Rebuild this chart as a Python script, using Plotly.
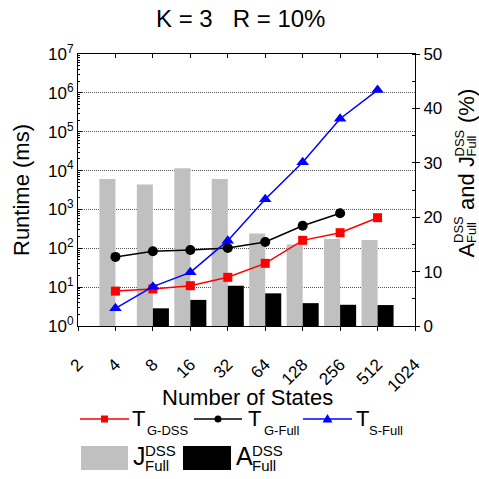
import numpy as np
import plotly.graph_objects as go

FONT = "Liberation Sans, Arial, sans-serif"

# ---- data -------------------------------------------------------------
states = [4, 8, 16, 32, 64, 128, 256, 512]
t_g_dss = [7.9, 9.0, 10.9, 17.9, 41, 160, 252, 612]            # ms
t_g_full_states = [4, 8, 16, 32, 64, 128, 256]
t_g_full = [60, 84, 90, 102, 145, 381, 795]                     # ms
t_s_full = [2.85, 10.3, 24, 157, 1820, 16300, 216000, 1180000]  # ms

j_full = [27.0, 26.0, 29.0, 27.0, 17.0, 15.0, 16.0, 15.8]        # %
a_full_states = [8, 16, 32, 64, 128, 256, 512]
a_full = [3.25, 4.8, 7.4, 6.0, 4.2, 3.9, 3.85]                  # %

x_tick_states = [2, 4, 8, 16, 32, 64, 128, 256, 512, 1024]
x_tick_labels = [str(s) for s in x_tick_states]
runtime_exponents = [0, 1, 2, 3, 4, 5, 6, 7]
runtime_tick_labels = [f"10<sup>{e}</sup>" for e in runtime_exponents]
pct_ticks = [0, 10, 20, 30, 40, 50]

# ---- geometry ---------------------------------------------------------
W = H = 479
ML, MR, MT, MB = 78, 64, 54, 153
PW, PH = W - ML - MR, H - MT - MB


def px_x(px):
    return (px - ML) / PW


def px_y(py):
    return (MT + PH - py) / PH


lg = np.log2
bar_w = 0.428

fig = go.Figure()

# bars on the primary (right, linear %) axis
fig.add_trace(go.Bar(
    x=lg(states), y=j_full, width=bar_w, offset=-bar_w,
    marker=dict(color="#c0c0c0", line=dict(width=0)),
    xaxis="x", yaxis="y", showlegend=False,
))
fig.add_trace(go.Bar(
    x=lg(a_full_states), y=a_full, width=bar_w, offset=0,
    marker=dict(color="#000000", line=dict(width=0)),
    xaxis="x", yaxis="y", showlegend=False,
))

# runtime lines on the overlaid log axis
fig.add_trace(go.Scatter(
    x=lg(states), y=t_g_dss, mode="lines+markers",
    line=dict(color="#ff0000", width=1.5),
    marker=dict(symbol="square", size=9, color="#ff0000"),
    xaxis="x2", yaxis="y2", showlegend=False,
))
fig.add_trace(go.Scatter(
    x=lg(t_g_full_states), y=t_g_full, mode="lines+markers",
    line=dict(color="#000000", width=1.5),
    marker=dict(symbol="circle", size=10, color="#000000"),
    xaxis="x2", yaxis="y2", showlegend=False,
))
fig.add_trace(go.Scatter(
    x=lg(states), y=t_s_full, mode="lines+markers",
    line=dict(color="#0000ff", width=1.5),
    marker=dict(symbol="triangle-up", size=11, color="#0000ff"),
    xaxis="x2", yaxis="y2", showlegend=False,
))

axis_font = dict(family=FONT, size=17, color="black")
xr = [1, 10]

fig.update_layout(
    width=W, height=H,
    margin=dict(l=ML, r=MR, t=MT, b=MB, pad=0),
    paper_bgcolor="white", plot_bgcolor="white",
    barmode="overlay",
    font=dict(family=FONT, color="black"),
    xaxis=dict(
        range=xr, tickmode="array", tickvals=lg(x_tick_states),
        ticktext=x_tick_labels, tickangle=-45,
        tickfont=dict(family=FONT, size=17, color="black"),
        ticks="outside", ticklen=4, tickcolor="black",
        ticklabelstandoff=17,
        showline=True, linecolor="black", linewidth=1,
        showgrid=False, zeroline=False,
    ),
    xaxis2=dict(
        range=xr, overlaying="x", side="top", anchor="y2",
        tickmode="array", tickvals=lg(x_tick_states),
        showticklabels=False, ticks="inside", ticklen=4, tickcolor="black",
        showline=True, linecolor="black", linewidth=1,
        showgrid=False, zeroline=False,
    ),
    yaxis=dict(
        range=[0, 50], side="right", tickmode="array", tickvals=pct_ticks,
        tickfont=axis_font, ticks="outside", ticklen=4, tickcolor="black",
        minor=dict(ticks="inside", ticklen=3, dtick=5, tickcolor="black",
                   showgrid=False),
        showline=True, linecolor="black", linewidth=1,
        showgrid=False, zeroline=False,
    ),
    yaxis2=dict(
        type="log", range=[0, 7], side="left", overlaying="y", anchor="x2",
        tickmode="array", tickvals=[10 ** e for e in runtime_exponents],
        ticktext=runtime_tick_labels, tickfont=axis_font,
        ticks="inside", ticklen=4, tickcolor="black",
        minor=dict(ticks="inside", ticklen=2, tickmode="linear", dtick="D1",
                   tickcolor="black", showgrid=False),
        showline=True, linecolor="black", linewidth=1,
        showgrid=True, gridcolor="#555555", griddash="1px,1px", gridwidth=1,
        zeroline=False,
    ),
)


def label(text, px, py, size, angle=0):
    fig.add_annotation(
        text=text, x=px_x(px), y=px_y(py), xref="paper", yref="paper",
        showarrow=False, xanchor="center", yanchor="middle",
        textangle=angle, font=dict(family=FONT, size=size, color="black"),
    )


# titles
label("K = 3\u00a0\u00a0\u00a0R = 10%", 240, 18, 24)
label("Number of States", 247, 397, 22)
label("Runtime (ms)", 21, 190, 22, angle=-90)

# right axis title with stacked super/subscripts (reads bottom to top)
MAIN_X, SUP_X, SUB_X = 466, 459, 471
label("A", MAIN_X, 250.5, 22, angle=-90)
label("DSS", SUP_X, 230, 13, angle=-90)
label("Full", SUB_X, 233, 13, angle=-90)
label("and", MAIN_X, 192, 22, angle=-90)
label("J", MAIN_X, 162, 22, angle=-90)
label("DSS", SUP_X, 143.5, 13, angle=-90)
label("Full", SUB_X, 146.5, 13, angle=-90)
label("(%)", MAIN_X, 106, 22, angle=-90)

# ---- legend -----------------------------------------------------------
row1 = 419
line_items = [
    ("#ff0000", "square", 80, 129, "G-DSS", 138, 167.5),
    ("#000000", "circle", 194, 242, "G-Full", 254, 281.5),
    ("#0000ff", "triangle", 303, 352, "S-Full", 362, 386),
]
for color, sym, x0, x1, sub, tx, sx in line_items:
    fig.add_shape(type="line", xref="paper", yref="paper",
                  x0=px_x(x0), x1=px_x(x1), y0=px_y(row1), y1=px_y(row1),
                  line=dict(color=color, width=1.5))
    cx = (x0 + x1) / 2
    r = 3.5
    if sym == "square":
        fig.add_shape(type="rect", xref="paper", yref="paper",
                      x0=px_x(cx - r), x1=px_x(cx + r),
                      y0=px_y(row1 + r), y1=px_y(row1 - r),
                      fillcolor=color, line=dict(width=0))
    elif sym == "circle":
        fig.add_shape(type="circle", xref="paper", yref="paper",
                      x0=px_x(cx - r), x1=px_x(cx + r),
                      y0=px_y(row1 + r), y1=px_y(row1 - r),
                      fillcolor=color, line=dict(width=0))
    else:
        p = (f"M {px_x(cx - 5)} {px_y(row1 + 3.5)} "
             f"L {px_x(cx + 5)} {px_y(row1 + 3.5)} "
             f"L {px_x(cx)} {px_y(row1 - 5)} Z")
        fig.add_shape(type="path", xref="paper", yref="paper", path=p,
                      fillcolor=color, line=dict(width=0))
    label("T", tx, 418, 22)
    label(sub, sx, 430, 13)

row2_top, row2_bot = 446, 470
box_items = [
    ("#c0c0c0", 81, 128, "J", 139.5, 160.5, 157),
    ("#000000", 183, 231, "A", 244.5, 267, 264),
]
for color, x0, x1, letter, lx, supx, subx in box_items:
    fig.add_shape(type="rect", xref="paper", yref="paper",
                  x0=px_x(x0), x1=px_x(x1),
                  y0=px_y(row2_bot), y1=px_y(row2_top),
                  fillcolor=color, line=dict(width=0))
    label(letter, lx, 456, 25)
    label("DSS", supx, 450.5, 15)
    label("Full", subx, 465, 15)

fig.write_html("out.html")
